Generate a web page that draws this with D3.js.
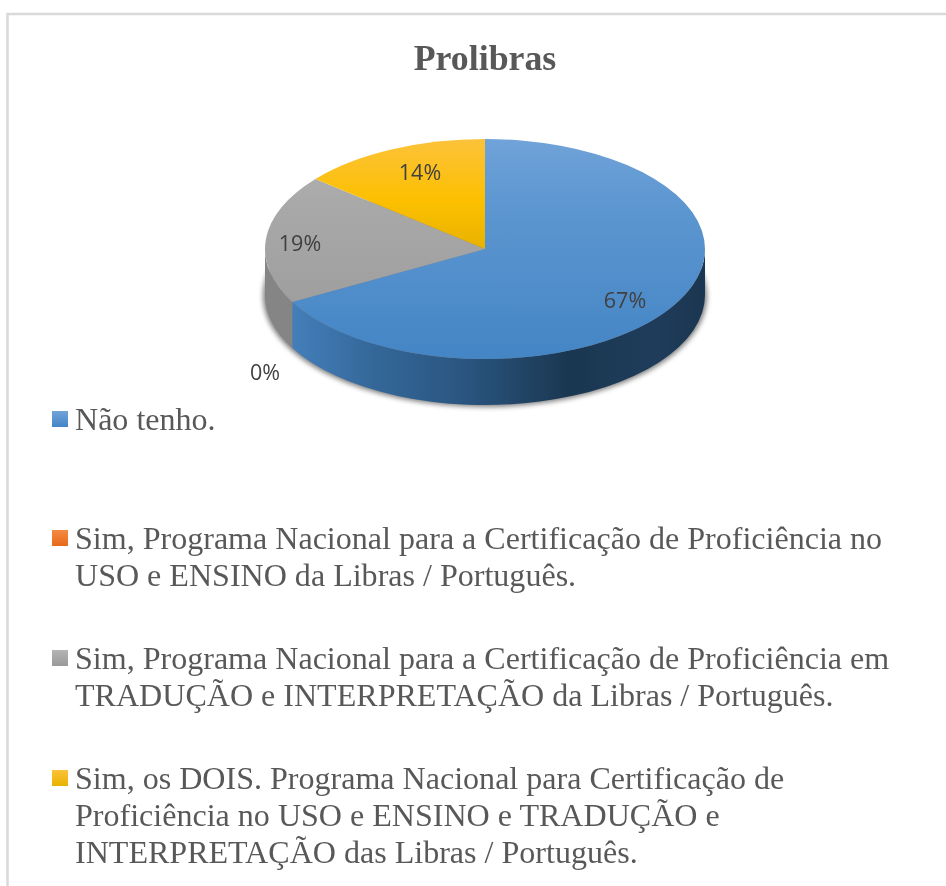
<!DOCTYPE html>
<html><head><meta charset="utf-8">
<script src="https://cdn.jsdelivr.net/npm/d3@7"></script>
<style>html,body{margin:0;padding:0;background:#fff;overflow:hidden}svg{display:block}</style>
</head><body><svg id="c" width="946" height="886"></svg>
<script>
const title = "Prolibras";
const categories = ["Não tenho.",
 "Sim, Programa Nacional para a Certificação de Proficiência no USO e ENSINO da Libras / Português.",
 "Sim, Programa Nacional para a Certificação de Proficiência em TRADUÇÃO e INTERPRETAÇÃO da Libras / Português.",
 "Sim, os DOIS. Programa Nacional para Certificação de Proficiência no USO e ENSINO e TRADUÇÃO e INTERPRETAÇÃO das Libras / Português."];
const legendLines = [
 ["Não tenho."],
 ["Sim, Programa Nacional para a Certificação de Proficiência no","USO e ENSINO da Libras / Português."],
 ["Sim, Programa Nacional para a Certificação de Proficiência em","TRADUÇÃO e INTERPRETAÇÃO da Libras / Português."],
 ["Sim, os DOIS. Programa Nacional para Certificação de","Proficiência no USO e ENSINO e TRADUÇÃO e","INTERPRETAÇÃO das Libras / Português."]];
const values = [67, 0, 19, 14];
const labels = ["67%","0%","19%","14%"];
const topTop = ["#70a3d9","#f58a45","#b4b4b4","#fcc23a"];
const topBottom = ["#4485c5","#e86a18","#999999","#e8b200"];
const sideColor = ["#4a8ccb","#b85410","#858585","#b88a00"];

const cx=485, cy=249, rx=220, ry=110, depth=46;
const svg=d3.select("#c");
const defs=svg.append("defs");
defs.append("filter").attr("id","soft").attr("x","-10%").attr("y","-10%").attr("width","120%").attr("height","120%")
  .append("feGaussianBlur").attr("stdDeviation",0.6);
defs.append("filter").attr("id","shadow").attr("x","-10%").attr("y","-20%").attr("width","120%").attr("height","140%")
  .append("feGaussianBlur").attr("stdDeviation",2.5);

categories.forEach((c,i)=>{
  const g=defs.append("linearGradient").attr("id","t"+i).attr("gradientUnits","userSpaceOnUse")
    .attr("x1",0).attr("x2",0).attr("y1",cy-ry).attr("y2",cy+ry);
  g.append("stop").attr("offset",0).attr("stop-color",topTop[i]);
  g.append("stop").attr("offset",0.28).attr("stop-color",i==3?"#fcc000":d3.interpolateRgb(topTop[i],topBottom[i])(0.4));
  g.append("stop").attr("offset",i==3?0.5:1).attr("stop-color",topBottom[i]);
  const l=defs.append("linearGradient").attr("id","l"+i).attr("x1",0).attr("x2",0).attr("y1",0).attr("y2",1);
  l.append("stop").attr("offset",0).attr("stop-color",topTop[i]);
  l.append("stop").attr("offset",1).attr("stop-color",topBottom[i]);
});
const sg=defs.append("linearGradient").attr("id","sideBlue").attr("gradientUnits","userSpaceOnUse")
  .attr("x1",292).attr("x2",705).attr("y1",0).attr("y2",0);
[[0,"#447fba"],[0.2,"#346799"],[0.42,"#2a5580"],[0.67,"#1a3751"],[0.88,"#1f3c5b"],[1,"#1b3650"]]
  .forEach(s=>sg.append("stop").attr("offset",s[0]).attr("stop-color",s[1]));

const pie=d3.pie().sort(null).value(d=>d);
const arcs=pie(values);
const px=a=>cx+rx*Math.sin(a), py=a=>cy-ry*Math.cos(a);

svg.append("path").attr("d",`M7.5,886V14H946`).attr("fill","none").attr("stroke","#d9d9d9").attr("stroke-width",2.5);

svg.append("text").attr("x",485).attr("y",70).attr("text-anchor","middle")
  .attr("font-family","'Liberation Serif'").attr("font-weight","bold").attr("font-size",35.8)
  .attr("fill","#595959").attr("filter","url(#soft)").text(title);

const pg=svg.append("g");
pg.append("ellipse").attr("cx",cx).attr("cy",cy+depth+1).attr("rx",rx+2).attr("ry",ry+1)
  .attr("fill","#555").attr("opacity",0.75).attr("filter","url(#shadow)");

function wall(a0,a1){
  const s=Math.max(a0,Math.PI/2), e=Math.min(a1,Math.PI*1.5);
  if(e<=s) return null;
  const x0=px(s),y0=py(s),x1=px(e),y1=py(e);
  return `M${x0},${y0}A${rx},${ry} 0 0 1 ${x1},${y1}L${x1},${y1+depth}A${rx},${ry} 0 0 0 ${x0},${y0+depth}Z`;
}
arcs.forEach((d,i)=>{
  const w=wall(d.startAngle,d.endAngle);
  if(w) pg.append("path").attr("d",w).attr("fill",i==0?"url(#sideBlue)":sideColor[i]);
});
arcs.forEach((d,i)=>{
  if(d.endAngle-d.startAngle<=0) return;
  const large=(d.endAngle-d.startAngle)>Math.PI?1:0;
  pg.append("path")
   .attr("d",`M${cx},${cy}L${px(d.startAngle)},${py(d.startAngle)}A${rx},${ry} 0 ${large} 1 ${px(d.endAngle)},${py(d.endAngle)}Z`)
   .attr("fill",`url(#t${i})`);
});

const labelPos=[[625,300],[265,372],[300,243],[420,172]];
labels.forEach((t,i)=>{
  svg.append("text").attr("x",labelPos[i][0]).attr("y",labelPos[i][1]).attr("text-anchor","middle")
   .attr("dy","0.35em").attr("font-family","'Open Sans'").attr("font-size",21.5)
   .attr("fill","#404040").attr("filter","url(#soft)").text(t);
});

const legendY=[419,538,658,778], lineH=37;
legendLines.forEach((lines,i)=>{
  svg.append("rect").attr("x",52).attr("y",legendY[i]-8).attr("width",16).attr("height",16).attr("fill",`url(#l${i})`);
  lines.forEach((t,j)=>{
    svg.append("text").attr("x",75).attr("y",legendY[i]+11+j*lineH)
     .attr("font-family","'Liberation Serif'").attr("font-size",32.05)
     .attr("fill","#595959").attr("filter","url(#soft)").text(t);
  });
});
</script></body></html>
